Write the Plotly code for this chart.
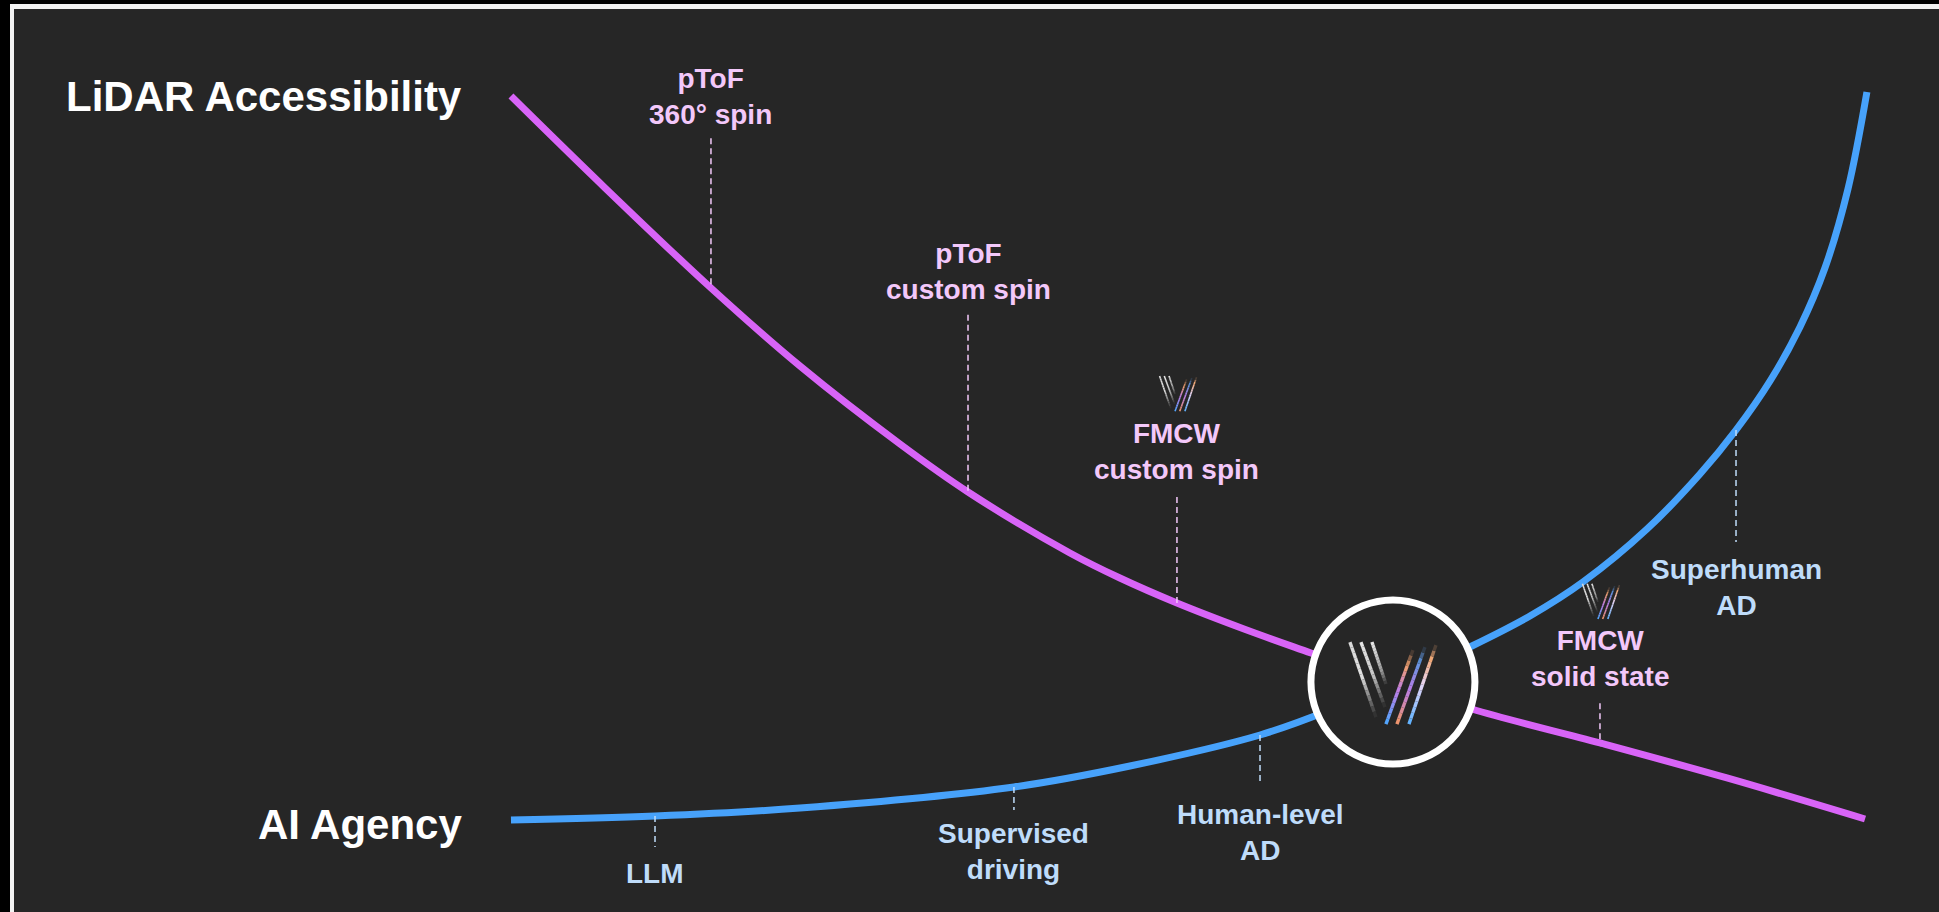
import plotly.graph_objects as go

# ---------------- data (x: progress 0-100, y: level 0-100) ----------------
lidar_x = [0, 6.57, 14.76, 21.33, 28.71, 33.73, 41.25, 44.94, 49.15, 54.10, 59.04, 65.09,
           70.92, 80.37, 89.74, 99.93]
lidar_y = [99.72, 87.74, 73.28, 62.53, 51.79, 45.18, 36.78, 33.33, 29.89, 26.31, 23.00, 19.01,
           15.29, 10.61, 5.79, 0.14]

ai_x = [0, 10.63, 21.33, 37.12, 45.68, 55.28, 60.44, 65.09, 70.92, 75.20, 79.11, 83.84, 87.75,
        90.41, 92.92, 95.13, 96.97, 98.67, 100.07]
ai_y = [0, 0.55, 1.65, 4.55, 7.44, 11.71, 15.15, 19.01, 23.97, 28.10, 32.78, 40.08, 47.66,
        53.72, 60.47, 67.91, 76.03, 86.91, 100.28]

series_names = ["LiDAR Accessibility", "AI Agency"]
series_label_x = [-3.45, -3.45]
series_label_y = [99.6, -0.55]

lidar_labels = ["pToF<br>360° spin", "pToF<br>custom spin", "FMCW<br>custom spin", "FMCW<br>solid state"]
lidar_label_x = [14.76, 33.73, 49.15, 80.37]
lidar_label_y = [99.6, 75.5, 50.8, 22.25]
lidar_leader_top = [93.9, 69.6, 44.5, 16.1]
lidar_leader_bottom = [73.28, 45.18, 29.89, 11.0]

ai_labels = ["LLM", "Supervised<br>driving", "Human-level<br>AD", "Superhuman<br>AD"]
ai_label_x = [10.63, 37.12, 55.28, 90.41]
ai_label_y = [-7.3, -4.27, -1.72, 31.96]
ai_leader_top = [0.55, 4.55, 11.71, 53.72]
ai_leader_bottom = [-3.72, 1.38, 5.10, 38.3]

# logo anchors: crossing point (big, in circle) + two small badges
logo_x = [65.09, 49.23, 80.44]
logo_y = [19.0, 58.8, 30.17]
logo_scale = [1.0, 0.43, 0.43]

# ---------------- style ----------------
W, H = 1939, 912
X_RANGE = [-37.71, 105.39]
Y_RANGE = [-12.67, 112.95]
BG = "#262626"
PURPLE = "#d864f7"
BLUE = "#47a2fb"
PINK_TXT = "#f3c8fa"
BLUE_TXT = "#bfdcfa"
FONT = "Liberation Sans, Arial, sans-serif"
SERIES_FONTS = [FONT, "Liberation Sans Narrow, Arial Narrow, Liberation Sans, sans-serif"]

fig = go.Figure()

fig.add_trace(go.Scatter(x=lidar_x, y=lidar_y, mode="lines",
                         line=dict(color=PURPLE, width=7, shape="spline", smoothing=1.0),
                         hoverinfo="skip"))
fig.add_trace(go.Scatter(x=ai_x, y=ai_y, mode="lines",
                         line=dict(color=BLUE, width=7, shape="spline", smoothing=1.0),
                         hoverinfo="skip"))


def leaders(xs, tops, bottoms):
    px, py = [], []
    for x, t, b in zip(xs, tops, bottoms):
        px += [x, x, None]
        py += [t, b, None]
    return px, py


lx, ly = leaders(lidar_label_x, lidar_leader_top, lidar_leader_bottom)
fig.add_trace(go.Scatter(x=lx, y=ly, mode="lines",
                         line=dict(color=PINK_TXT, width=1.5, dash="6px,4px"), hoverinfo="skip"))
bx, by = leaders(ai_label_x, ai_leader_top, ai_leader_bottom)
fig.add_trace(go.Scatter(x=bx, y=by, mode="lines",
                         line=dict(color=BLUE_TXT, width=1.5, dash="6px,4px"), hoverinfo="skip"))

# circle at the crossing point
fig.add_trace(go.Scatter(x=[logo_x[0]], y=[logo_y[0]], mode="markers",
                         marker=dict(size=164, color=BG, line=dict(color="white", width=7)),
                         hoverinfo="skip"))

annotations = []
for name, x, y, fam in zip(series_names, series_label_x, series_label_y, SERIES_FONTS):
    annotations.append(dict(x=x, y=y, text=name, showarrow=False, xanchor="right", yanchor="middle",
                            font=dict(family=fam, size=42, color="white", weight="bold")))
for t, x, y in zip(lidar_labels, lidar_label_x, lidar_label_y):
    annotations.append(dict(x=x, y=y, text=t, showarrow=False, xanchor="center", yanchor="middle",
                            font=dict(family=FONT, size=28, color=PINK_TXT, weight="bold")))
for t, x, y in zip(ai_labels, ai_label_x, ai_label_y):
    annotations.append(dict(x=x, y=y, text=t, showarrow=False, xanchor="center", yanchor="middle",
                            font=dict(family=FONT, size=28, color=BLUE_TXT, weight="bold")))

# ---------------- frame ----------------
shapes = [
    dict(type="rect", xref="paper", yref="paper", x0=10 / W, x1=1.2, y0=-0.2, y1=1 - 4 / H,
         fillcolor="#f2f2f2", line=dict(width=0), layer="below"),
    dict(type="rect", xref="paper", yref="paper", x0=14 / W, x1=1.2, y0=-0.2, y1=1 - 9 / H,
         fillcolor=BG, line=dict(width=0), layer="below"),
]

# ---------------- V logo strokes (pixel offsets, screen-down y) ----------------
BGc = (38, 38, 38)
LOGO_STROKES = [
    ((-43, -40), (-17, 35), [(0, (215, 215, 215)), (0.45, (225, 225, 225)), (1, BGc)]),
    ((-32, -40), (-8, 25), [(0, (230, 230, 230)), (0.5, (200, 200, 200)), (1, BGc)]),
    ((-21, -40), (-7, 2), [(0, (235, 235, 235)), (0.7, (150, 150, 150)), (1, (50, 50, 50))]),
    ((-7, 42), (20, -32), [(0, (74, 168, 255)), (0.45, (190, 125, 230)), (0.78, (240, 160, 110)), (1, BGc)]),
    ((4, 42), (32, -35), [(0, (240, 150, 100)), (0.45, (185, 125, 230)), (0.8, (95, 150, 225)), (1, BGc)]),
    ((16, 42), (43, -37), [(0, (90, 176, 255)), (0.5, (232, 216, 248)), (0.82, (240, 168, 120)), (1, BGc)]),
]


def color_at(stops, t):
    for (t0, c0), (t1, c1) in zip(stops[:-1], stops[1:]):
        if t0 <= t <= t1:
            f = (t - t0) / (t1 - t0) if t1 > t0 else 0
            c = [round(a + (b - a) * f) for a, b in zip(c0, c1)]
            return "rgb(%d,%d,%d)" % tuple(c)
    return "rgb(%d,%d,%d)" % stops[-1][1]


NSEG = 14
for ax_, ay_, s in zip(logo_x, logo_y, logo_scale):
    w = 3.4 * s if s >= 1 else 1.6
    for (p0, p1, stops) in LOGO_STROKES:
        for i in range(NSEG):
            t0, t1 = i / NSEG, (i + 1) / NSEG
            xa = (p0[0] + (p1[0] - p0[0]) * t0) * s
            ya = (p0[1] + (p1[1] - p0[1]) * t0) * s
            xb = (p0[0] + (p1[0] - p0[0]) * t1) * s
            yb = (p0[1] + (p1[1] - p0[1]) * t1) * s
            shapes.append(dict(type="line", xref="x", yref="y", xsizemode="pixel", ysizemode="pixel",
                               xanchor=ax_, yanchor=ay_, x0=xa, x1=xb, y0=-ya, y1=-yb,
                               line=dict(color=color_at(stops, (t0 + t1) / 2), width=w),
                               layer="above"))

fig.update_layout(
    width=W, height=H, margin=dict(l=0, r=0, t=0, b=0, pad=0),
    paper_bgcolor="black", plot_bgcolor="rgba(0,0,0,0)",
    showlegend=False, shapes=shapes, annotations=annotations,
    xaxis=dict(range=X_RANGE, visible=False, fixedrange=True),
    yaxis=dict(range=Y_RANGE, visible=False, fixedrange=True),
    hovermode=False,
)

fig.write_html("out.html", config={"displayModeBar": False},
               post_script="document.body.style.margin='0';document.body.style.overflow='hidden';")
